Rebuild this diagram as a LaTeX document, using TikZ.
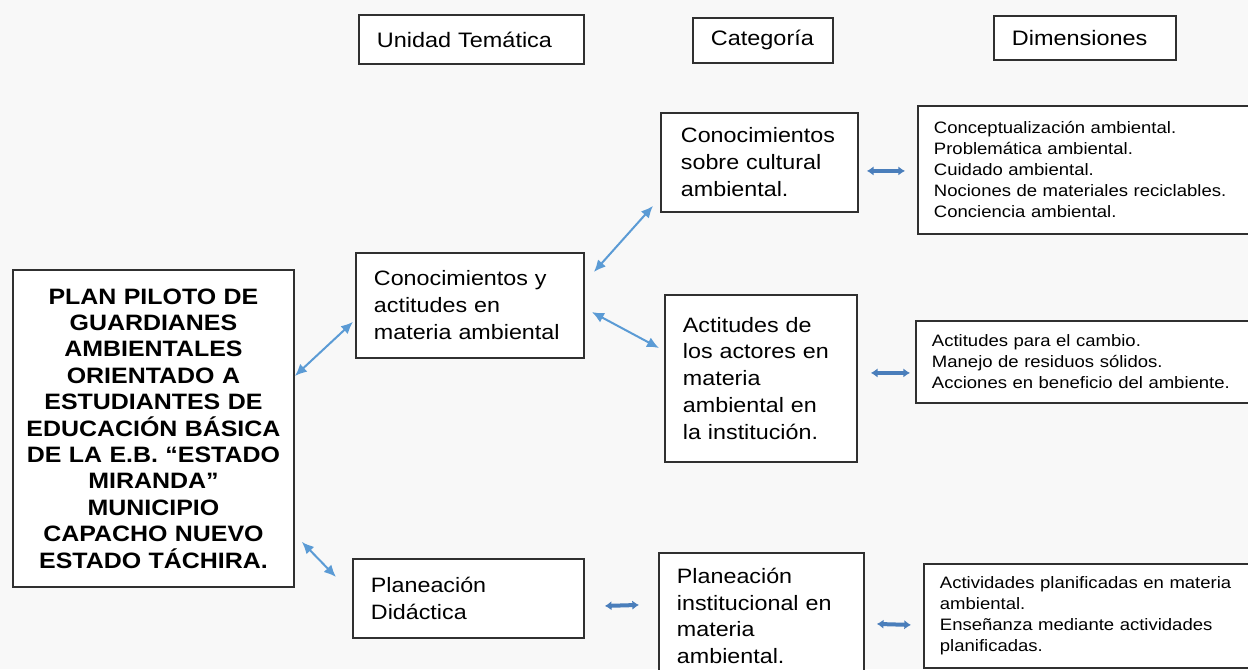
\documentclass[tikz,border=0pt]{standalone}
\usepackage{fontspec}
\setmainfont{Liberation Sans}[FakeStretch=1.12]
\usetikzlibrary{arrows.meta,calc}

\definecolor{fondo}{HTML}{F8F8F8}
\definecolor{borde}{HTML}{303030}
\definecolor{azul}{HTML}{5B9BD5}
\definecolor{azulosc}{HTML}{4A7EBB}

\begin{document}
\begin{tikzpicture}[x=0.75pt, y=-0.75pt,
  caja/.style={draw=borde, fill=white, line width=1.4pt, anchor=north west,
    align=left, inner xsep=13.5pt, inner ysep=0pt,
    font=\fontsize{15.6}{20.2}\selectfont},
  titulo/.style={caja, font=\fontsize{15.7}{19}\selectfont},
  dimen/.style={caja, inner xsep=12pt, font=\fontsize{12.4}{15.75}\selectfont},
  flecha/.style={draw=azul, line width=1.5pt, {Latex[length=9pt,width=8pt]}-{Latex[length=9pt,width=8pt]}},
  flechah/.style={draw=azulosc, line width=3pt, {Latex[length=5pt,width=7pt]}-{Latex[length=5pt,width=7pt]}},
  ]
  \useasboundingbox (0,0) rectangle (1248,669);
  \clip (0,0) rectangle (1248,669);
  \fill[fondo] (0,0) rectangle (1248,669);

  % encabezados
  \node[titulo, minimum width=168.75pt, minimum height=36.75pt, text width=141.75pt]
    (unidad) at (358,14) {Unidad Temática};
  \node[titulo, minimum width=105pt, minimum height=33.75pt, text width=78pt]
    (categoria) at (692,17) {Categoría};
  \node[titulo, minimum width=136.5pt, minimum height=33pt, text width=109.5pt]
    (dimensiones) at (993,15) {Dimensiones};

  % cajas
  \node[caja, align=center, inner xsep=3.75pt, minimum width=210.75pt, minimum height=237.75pt,
    text width=203.25pt, font=\fontsize{16.7}{19.8}\selectfont\bfseries]
    (plan) at (12,269) {PLAN PILOTO DE\\GUARDIANES\\AMBIENTALES\\ORIENTADO A\\ESTUDIANTES DE\\EDUCACIÓN BÁSICA\\DE LA E.B. “ESTADO\\MIRANDA”\\MUNICIPIO\\CAPACHO NUEVO\\ESTADO TÁCHIRA.};
  \node[caja, minimum width=171pt, minimum height=78.75pt, text width=144pt]
    (conoc) at (355,252) {Conocimientos y\\actitudes en\\materia ambiental};
  \node[caja, minimum width=173.25pt, minimum height=59.25pt, text width=146.25pt]
    (planeacion) at (352,558) {Planeación\\Didáctica};
  \node[caja, inner xsep=15pt, minimum width=147.75pt, minimum height=74.25pt, text width=117.75pt]
    (cultural) at (660,112) {Conocimientos\\sobre cultural\\ambiental.};
  \node[caja, minimum width=144pt, minimum height=125.25pt, text width=117pt]
    (actitudes) at (664,294) {Actitudes de\\los actores en\\materia\\ambiental en\\la institución.\\[7.5pt]};
  \node[caja, minimum width=153.75pt, minimum height=94.5pt, text width=126.75pt]
    (institucional) at (658,552) {Planeación\\institucional en\\materia\\ambiental.};
  \node[dimen, minimum width=255pt, minimum height=96pt, text width=231pt]
    (dim1) at (917,105) {Conceptualización ambiental.\\Problemática ambiental.\\Cuidado ambiental.\\Nociones de materiales reciclables.\\Conciencia ambiental.};
  \node[dimen, minimum width=255pt, minimum height=61.5pt, text width=231pt]
    (dim2) at (915,320) {Actitudes para el cambio.\\Manejo de residuos sólidos.\\Acciones en beneficio del ambiente.};
  \node[dimen, minimum width=249pt, minimum height=78pt, text width=225pt]
    (dim3) at (923,563) {Actividades planificadas en materia\\ambiental.\\Enseñanza mediante actividades\\planificadas.};

  % flechas
  \draw[flecha] ($(plan.north east)+(0,107)$) -- ($(conoc.south west)+(-2,-37)$);
  \draw[flecha] ($(plan.south east)+(7,-46)$) -- ($(planeacion.north west)+(-16,19)$);
  \draw[flecha] ($(conoc.north east)+(9,20)$) -- ($(cultural.south west)+(-7,-7)$);
  \draw[flecha] ($(conoc.north east)+(7,60)$) -- ($(actitudes.north west)+(-5,54)$);
  \draw[flechah] ($(cultural.east)+(8,8.5)$) -- ($(dim1.west)+(-12,1)$);
  \draw[flechah] ($(actitudes.east)+(13,-5.5)$) -- ($(dim2.west)+(-5,11)$);
  \draw[flechah] ($(planeacion.east)+(20,7.5)$) -- ($(institucional.west)+(-19,-11)$);
  \draw[flechah] ($(institucional.east)+(12,8)$) -- ($(dim3.west)+(-12,9)$);
\end{tikzpicture}
\end{document}
